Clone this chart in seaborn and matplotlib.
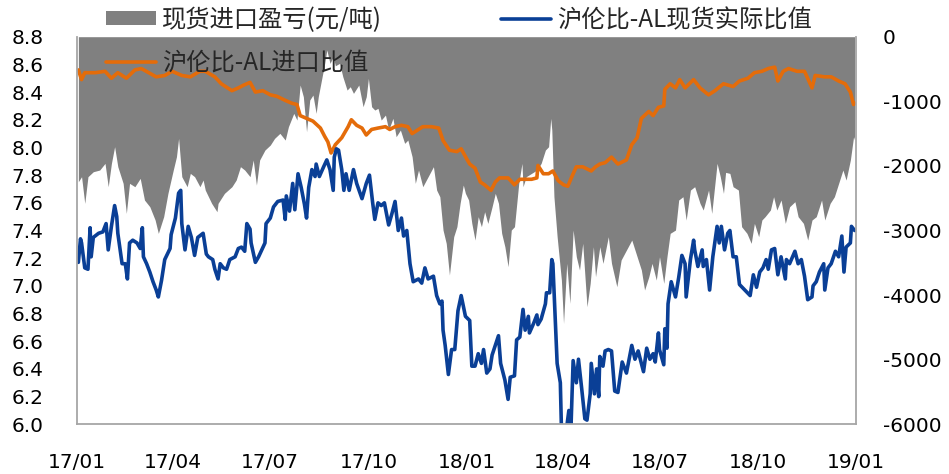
import numpy as np
import pandas as pd
import matplotlib
matplotlib.use("Agg")
import matplotlib.pyplot as plt
import matplotlib.dates as mdates
from matplotlib.patches import Patch
from matplotlib.lines import Line2D
from matplotlib.font_manager import FontProperties
import seaborn as sns

# ---------------- data (day offsets from 2017-01-01) ----------------
start_date = "2017-01-01"
end_date = "2019-01-01"

label_gray = "现货进口盈亏(元/吨)"
label_blue = "沪伦比-AL现货实际比值"
label_orange = "沪伦比-AL进口比值"

blue_day = [1, 3, 4, 7, 10, 12, 13, 15, 20, 24, 27, 29, 32, 35, 37, 38, 42, 45, 47, 49, 52, 56, 59, 61, 62,
            65, 68, 71, 74, 76, 79, 82, 87, 88, 92, 95, 97, 98, 101, 103, 104, 107, 110, 113, 118, 121, 123,
            127, 129, 132, 134, 137, 140, 143, 148, 151, 154, 157, 159, 162, 163, 167, 170, 173, 176, 177,
            181, 184, 188, 193, 195, 196, 199, 202, 204, 207, 210, 213, 215, 217, 220, 223, 224, 227, 231,
            234, 237, 240, 241, 243, 245, 248, 250, 252, 255, 259, 262, 267, 271, 274, 277, 279, 282, 285,
            288, 292, 295, 298, 301, 304, 306, 309, 312, 315, 320, 323, 326, 329, 334, 337, 340, 342, 343,
            345, 348, 351, 354, 357, 360, 364, 368, 370, 373, 376, 379, 381, 384, 387, 389, 392, 395, 397,
            401, 404, 406, 410, 412, 415, 418, 420, 423, 424, 428, 431, 432, 435, 439, 440, 443, 445, 446,
            448, 450, 453, 454, 457, 459, 461, 463, 465, 468, 470, 473, 476, 478, 481, 482, 485, 487, 489,
            490, 493, 495, 498, 501, 504, 507, 511, 515, 520, 523, 526, 531, 534, 537, 540, 542, 545, 546,
            550, 551, 553, 554, 557, 561, 564, 567, 570, 571, 575, 578, 579, 582, 586, 587, 590, 593, 596,
            600, 602, 604, 607, 610, 612, 615, 618, 621, 626, 631, 634, 637, 640, 643, 646, 648, 651, 654,
            657, 660, 664, 665, 668, 673, 676, 679, 682, 685, 689, 690, 693, 696, 700, 701, 704, 707, 711,
            714, 717, 719, 721, 725, 726, 729]
blue_val = [7.17, 7.34, 7.31, 7.13, 7.12, 7.42, 7.21, 7.35, 7.38, 7.39, 7.45, 7.26, 7.43, 7.58, 7.50, 7.38,
            7.16, 7.16, 7.05, 7.31, 7.33, 7.31, 7.27, 7.42, 7.21, 7.16, 7.10, 7.03, 6.97, 6.92, 7.04, 7.19,
            7.27, 7.37, 7.49, 7.67, 7.69, 7.45, 7.26, 7.37, 7.43, 7.35, 7.22, 7.35, 7.38, 7.23, 7.21, 7.19,
            7.12, 7.05, 7.16, 7.13, 7.12, 7.19, 7.21, 7.27, 7.28, 7.25, 7.45, 7.41, 7.31, 7.17, 7.21, 7.26,
            7.31, 7.45, 7.49, 7.57, 7.61, 7.62, 7.48, 7.65, 7.54, 7.74, 7.55, 7.81, 7.71, 7.59, 7.49, 7.71,
            7.84, 7.79, 7.88, 7.79, 7.86, 7.91, 7.84, 7.69, 7.93, 7.99, 7.98, 7.84, 7.69, 7.81, 7.69, 7.84,
            7.74, 7.63, 7.74, 7.80, 7.60, 7.48, 7.60, 7.58, 7.60, 7.44, 7.52, 7.61, 7.40, 7.49, 7.36, 7.40,
            7.16, 7.03, 7.05, 7.02, 7.13, 7.05, 7.07, 6.93, 6.87, 6.89, 6.68, 6.57, 6.36, 6.54, 6.54, 6.82,
            6.93, 6.78, 6.75, 6.42, 6.42, 6.51, 6.44, 6.54, 6.37, 6.40, 6.50, 6.57, 6.64, 6.44, 6.32, 6.18,
            6.34, 6.35, 6.61, 6.63, 6.83, 6.68, 6.78, 6.66, 6.73, 6.79, 6.72, 6.76, 6.87, 6.95, 6.95, 7.19,
            7.16, 6.80, 6.44, 6.30, 5.98, 5.98, 5.98, 6.10, 5.98, 6.46, 6.30, 6.47, 6.26, 6.04, 6.03, 6.22,
            6.44, 6.22, 6.40, 6.20, 6.49, 6.42, 6.53, 6.54, 6.53, 6.24, 6.23, 6.45, 6.37, 6.57, 6.47, 6.53,
            6.38, 6.55, 6.47, 6.51, 6.45, 6.66, 6.54, 6.43, 6.69, 6.55, 6.87, 7.03, 6.92, 7.06, 7.22, 7.16,
            6.92, 7.19, 7.33, 7.26, 7.14, 7.26, 7.14, 7.19, 6.97, 7.21, 7.43, 7.31, 7.43, 7.26, 7.38, 7.40,
            7.21, 7.21, 7.01, 6.97, 6.93, 7.08, 6.99, 7.10, 7.13, 7.19, 7.12, 7.26, 7.27, 7.08, 7.21, 7.05,
            7.19, 7.16, 7.25, 7.16, 7.19, 7.07, 6.90, 6.92, 7.00, 7.03, 7.10, 7.16, 6.97, 7.13, 7.16, 7.25,
            7.21, 7.36, 7.10, 7.28, 7.31, 7.43, 7.40]

orange_day = [1, 4, 7, 17, 26, 32, 38, 46, 54, 60, 67, 74, 82, 89, 98, 106, 115, 120, 129, 135, 145, 151,
              156, 162, 167, 174, 181, 187, 195, 201, 206, 209, 215, 221, 228, 232, 235, 238, 242, 248, 254,
              257, 262, 267, 271, 276, 282, 289, 293, 298, 304, 310, 314, 320, 324, 332, 339, 343, 349, 356,
              360, 365, 368, 373, 378, 382, 388, 392, 396, 404, 410, 415, 421, 426, 431, 432, 437, 442, 446,
              451, 456, 460, 465, 468, 474, 482, 486, 490, 495, 501, 507, 515, 520, 525, 529, 536, 540, 545,
              550, 551, 556, 561, 565, 570, 578, 584, 592, 598, 606, 615, 621, 629, 635, 642, 648, 654, 657,
              662, 667, 675, 682, 689, 692, 701, 707, 714, 720, 725, 728, 729]
orange_val = [8.56, 8.49, 8.54, 8.54, 8.55, 8.50, 8.54, 8.50, 8.56, 8.57, 8.54, 8.51, 8.52, 8.55, 8.52, 8.51,
              8.55, 8.55, 8.51, 8.46, 8.41, 8.43, 8.45, 8.47, 8.40, 8.41, 8.38, 8.37, 8.34, 8.32, 8.31, 8.23,
              8.21, 8.19, 8.14, 8.08, 8.04, 7.96, 8.02, 8.07, 8.15, 8.20, 8.16, 8.14, 8.09, 8.13, 8.14, 8.15,
              8.13, 8.15, 8.16, 8.15, 8.10, 8.13, 8.15, 8.15, 8.14, 8.05, 7.98, 7.97, 7.99, 7.92, 7.88, 7.85,
              7.75, 7.73, 7.69, 7.75, 7.78, 7.78, 7.73, 7.77, 7.77, 7.77, 7.78, 7.87, 7.81, 7.81, 7.83, 7.76,
              7.73, 7.72, 7.81, 7.86, 7.86, 7.83, 7.86, 7.88, 7.89, 7.93, 7.88, 7.91, 8.02, 8.07, 8.21, 8.26,
              8.23, 8.29, 8.30, 8.42, 8.46, 8.43, 8.49, 8.43, 8.49, 8.43, 8.38, 8.41, 8.46, 8.44, 8.48, 8.50,
              8.54, 8.55, 8.57, 8.58, 8.48, 8.55, 8.57, 8.55, 8.55, 8.43, 8.52, 8.51, 8.51, 8.48, 8.46, 8.40,
              8.31, 8.32]

gray_day = [1, 4, 7, 10, 15, 21, 26, 29, 32, 35, 38, 43, 46, 49, 54, 59, 63, 68, 73, 76, 81, 85, 90, 93, 95,
            98, 103, 106, 110, 115, 118, 120, 123, 126, 131, 132, 138, 145, 149, 153, 157, 162, 165, 168,
            171, 176, 181, 185, 190, 195, 198, 203, 206, 209, 212, 215, 218, 221, 224, 226, 229, 232, 234,
            237, 240, 242, 246, 249, 253, 256, 259, 264, 268, 271, 273, 276, 279, 282, 285, 289, 292, 296,
            299, 303, 307, 310, 314, 317, 320, 324, 329, 334, 337, 340, 343, 346, 349, 353, 356, 359, 362,
            364, 367, 370, 373, 376, 379, 382, 385, 389, 392, 395, 398, 401, 404, 407, 410, 414, 417, 418,
            421, 426, 431, 435, 439, 442, 444, 445, 447, 450, 454, 456, 459, 462, 465, 468, 471, 474, 478,
            481, 484, 486, 490, 493, 498, 501, 506, 510, 515, 520, 525, 529, 532, 536, 539, 543, 546, 550,
            553, 556, 561, 564, 568, 571, 575, 579, 584, 587, 592, 595, 600, 603, 606, 608, 612, 615, 620,
            623, 628, 632, 635, 639, 642, 645, 650, 653, 656, 660, 664, 668, 673, 676, 681, 685, 689, 693,
            698, 701, 706, 710, 715, 718, 721, 725, 728, 729]
gray_val = [-2245, -2167, -2580, -2167, -2090, -2064, -1961, -2322, -1961, -1703, -2012, -2270, -2735,
            -2270, -2322, -2193, -2528, -2632, -2838, -3044, -2786, -2425, -2064, -1858, -1574, -2167,
            -2322, -2116, -2167, -2322, -2219, -2374, -2477, -2580, -2709, -2580, -2425, -2322, -2219,
            -2012, -2064, -2167, -1909, -2296, -1909, -1754, -1677, -1574, -1496, -1600, -1393, -1187,
            -1290, -748, -929, -1471, -980, -903, -1187, -929, -671, -413, -206, -413, -310, -450, -413,
            -619, -826, -774, -877, -748, -1084, -929, -645, -1084, -1135, -1109, -1290, -1213, -1445,
            -1264, -1548, -1445, -1651, -1600, -1858, -2270, -2064, -2322, -2167, -2012, -2374, -2477,
            -2993, -3199, -3689, -3096, -2941, -2580, -2296, -2425, -2528, -2890, -3148, -2786, -2941,
            -2709, -2890, -2632, -2425, -2580, -3044, -3251, -3560, -2993, -2941, -2270, -1961, -2322,
            -2167, -2116, -2064, -1961, -1754, -1703, -1264, -1445, -2477, -3096, -3767, -4438, -3509,
            -4128, -2993, -3406, -3612, -3199, -4180, -3818, -3251, -3715, -3251, -3509, -3096, -3509,
            -3870, -3457, -3302, -3148, -3406, -3612, -3921, -3715, -3509, -3767, -3406, -3818, -3406,
            -3044, -2993, -2528, -2477, -2838, -2374, -2322, -2580, -2683, -2374, -2735, -1961, -2167,
            -2425, -2100, -2116, -2322, -2374, -2941, -3044, -3199, -2890, -3096, -2838, -2786, -2683,
            -2477, -2683, -2528, -2890, -2632, -2554, -2786, -2890, -3148, -2838, -2786, -2528, -2838,
            -2580, -2477, -2219, -2064, -2219, -1909, -1548, -1600]

left_ticks = [6.0, 6.2, 6.4, 6.6, 6.8, 7.0, 7.2, 7.4, 7.6, 7.8, 8.0, 8.2, 8.4, 8.6, 8.8]
right_ticks = [-6000, -5000, -4000, -3000, -2000, -1000, 0]

# ---------------- styling ----------------
sns.set_theme(style="white")
plt.rcParams["font.family"] = ["DejaVu Sans"]
plt.rcParams["axes.unicode_minus"] = False

col_gray = "#808080"
col_blue = "#0a3f96"
col_orange = "#e46c0a"
col_spine = "#a6a6a6"

start = pd.Timestamp(start_date)
to_dates = lambda days: start + pd.to_timedelta(days, unit="D")

df_blue = pd.DataFrame({"date": to_dates(blue_day), "val": blue_val})
df_orange = pd.DataFrame({"date": to_dates(orange_day), "val": orange_val})
df_gray = pd.DataFrame({"date": to_dates(gray_day), "val": gray_val})

fig = plt.figure(figsize=(9.49, 4.74), dpi=100)
ax = fig.add_axes([77.3 / 949, 1 - 424.3 / 474, (855.7 - 77.3) / 949, (424.3 - 36.7) / 474])
ax2 = ax.twinx()

# gray area (right scale) on the base axes, drawn beneath the lines
ax.fill_between(df_gray["date"], 0, df_gray["val"], color=col_gray, lw=0)
ax.set_ylim(-6000, 0)
ax.yaxis.tick_right()
ax.set_yticks(right_ticks)

# ratio lines (left scale)
sns.lineplot(data=df_orange, x="date", y="val", ax=ax2, color=col_orange, lw=2.6,
             estimator=None, sort=False)
sns.lineplot(data=df_blue, x="date", y="val", ax=ax2, color=col_blue, lw=2.6,
             estimator=None, sort=False)
ax2.yaxis.tick_left()
ax2.set_ylim(6.0, 8.8)
ax2.set_yticks(left_ticks)
ax2.yaxis.set_major_formatter(matplotlib.ticker.FormatStrFormatter("%.1f"))
ax2.set_xlabel("")
ax2.set_ylabel("")
ax.set_xlabel("")
ax.set_ylabel("")

ax.set_xlim(pd.Timestamp(start_date), pd.Timestamp(end_date))
ax.xaxis.set_major_locator(mdates.MonthLocator(bymonth=[1, 4, 7, 10]))
ax.xaxis.set_major_formatter(mdates.DateFormatter("%y/%m"))

for a in (ax, ax2):
    for s in a.spines.values():
        s.set_visible(False)
for side in ("left", "right", "bottom"):
    ax2.spines[side].set_visible(True)
    ax2.spines[side].set_color(col_spine)
    ax2.spines[side].set_linewidth(1.3)
ax2.spines["bottom"].set_zorder(5)

ax.tick_params(axis="x", length=0, pad=21, labelsize=14.5, colors="black")
ax.tick_params(axis="y", length=0, pad=19.5, labelsize=14.5, colors="black")
ax2.tick_params(axis="y", length=0, pad=24.5, labelsize=14.5, colors="black")
ax.grid(False)
ax2.grid(False)

handles = [Patch(facecolor=col_gray, edgecolor="none"),
           Line2D([], [], color=col_orange, lw=2.6),
           Line2D([], [], color=col_blue, lw=2.6)]
labels = [label_gray, label_orange, label_blue]
fig.legend(handles, labels, ncol=2, loc="upper left",
           bbox_to_anchor=(106 / 949, 1 - 7 / 474), frameon=False,
           prop=FontProperties(family=["Noto Sans CJK SC", "DejaVu Sans"], size=17.5),
           labelcolor="#262626", handlelength=2.05, handleheight=0.5, handletextpad=0.25,
           columnspacing=4.9, labelspacing=0.68, borderpad=0, borderaxespad=0)

fig.savefig("out.png", dpi=100)
